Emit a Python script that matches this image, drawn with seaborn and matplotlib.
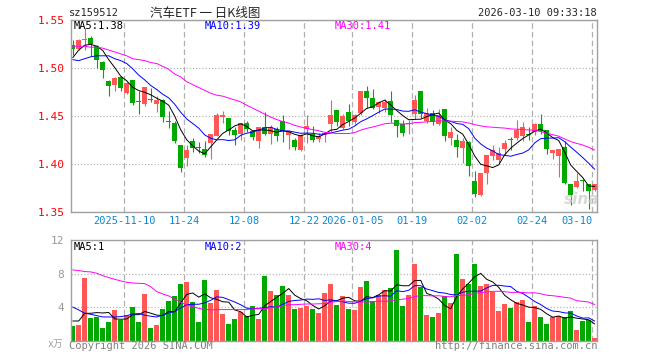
import numpy as np
import pandas as pd
import matplotlib
matplotlib.use("Agg")
import matplotlib.pyplot as plt
import seaborn as sns

# daily candles, sz159512, 2025-10-28 .. 2026-03-10
open_ = [1.524, 1.520, 1.529, 1.532, 1.523, 1.507, 1.487, 1.483, 1.491, 1.474,
         1.488, 1.466, 1.463, 1.468, 1.463, 1.467, 1.445, 1.443, 1.420, 1.407,
         1.424, 1.418, 1.416, 1.422, 1.430, 1.449, 1.448, 1.436, 1.432, 1.443,
         1.435, 1.424, 1.439, 1.432, 1.437, 1.445, 1.431, 1.425, 1.415, 1.437,
         1.432, 1.426, 1.431, 1.442, 1.457, 1.438, 1.454, 1.444, 1.453, 1.476,
         1.469, 1.460, 1.459, 1.466, 1.446, 1.442, 1.442, 1.452, 1.476, 1.445,
         1.453, 1.442, 1.458, 1.427, 1.425, 1.417, 1.423, 1.383, 1.368, 1.391,
         1.409, 1.405, 1.416, 1.426, 1.427, 1.429, 1.432, 1.434, 1.442, 1.436,
         1.412, 1.409, 1.418, 1.379, 1.376, 1.384, 1.380, 1.373]
close_ = [1.520, 1.530, 1.531, 1.525, 1.509, 1.498, 1.482, 1.490, 1.480, 1.485,
          1.464, 1.465, 1.481, 1.467, 1.467, 1.449, 1.444, 1.424, 1.396, 1.415,
          1.417, 1.417, 1.410, 1.432, 1.451, 1.451, 1.435, 1.431, 1.443, 1.437,
          1.428, 1.439, 1.432, 1.439, 1.429, 1.435, 1.435, 1.418, 1.431, 1.440,
          1.425, 1.429, 1.433, 1.451, 1.444, 1.450, 1.445, 1.451, 1.476, 1.469,
          1.459, 1.465, 1.465, 1.451, 1.440, 1.433, 1.443, 1.467, 1.452, 1.453,
          1.444, 1.451, 1.430, 1.434, 1.418, 1.424, 1.398, 1.369, 1.391, 1.410,
          1.415, 1.412, 1.422, 1.425, 1.436, 1.439, 1.431, 1.442, 1.435, 1.416,
          1.415, 1.416, 1.381, 1.368, 1.383, 1.383, 1.372, 1.379]
high_ = [1.530, 1.531, 1.542, 1.534, 1.524, 1.508, 1.488, 1.491, 1.492, 1.486,
         1.488, 1.476, 1.481, 1.479, 1.471, 1.468, 1.456, 1.445, 1.420, 1.420,
         1.427, 1.423, 1.424, 1.432, 1.453, 1.456, 1.448, 1.439, 1.443, 1.445,
         1.436, 1.439, 1.454, 1.441, 1.439, 1.451, 1.435, 1.427, 1.432, 1.451,
         1.440, 1.433, 1.434, 1.467, 1.457, 1.452, 1.463, 1.452, 1.476, 1.482,
         1.478, 1.466, 1.468, 1.476, 1.446, 1.446, 1.446, 1.472, 1.476, 1.459,
         1.457, 1.458, 1.458, 1.439, 1.432, 1.427, 1.424, 1.393, 1.391, 1.410,
         1.420, 1.418, 1.425, 1.428, 1.446, 1.444, 1.439, 1.443, 1.452, 1.436,
         1.415, 1.416, 1.424, 1.379, 1.391, 1.385, 1.380, 1.380]
low_ = [1.514, 1.519, 1.519, 1.513, 1.500, 1.490, 1.471, 1.476, 1.476, 1.473,
        1.462, 1.452, 1.461, 1.465, 1.454, 1.444, 1.438, 1.422, 1.392, 1.398,
        1.413, 1.412, 1.408, 1.406, 1.430, 1.443, 1.431, 1.420, 1.425, 1.434,
        1.425, 1.417, 1.431, 1.421, 1.424, 1.423, 1.416, 1.415, 1.414, 1.422,
        1.423, 1.423, 1.423, 1.434, 1.440, 1.437, 1.440, 1.442, 1.451, 1.459,
        1.458, 1.453, 1.455, 1.444, 1.428, 1.429, 1.432, 1.447, 1.448, 1.443,
        1.441, 1.441, 1.424, 1.420, 1.408, 1.401, 1.388, 1.366, 1.367, 1.380,
        1.405, 1.401, 1.410, 1.415, 1.425, 1.424, 1.425, 1.431, 1.432, 1.411,
        1.406, 1.387, 1.380, 1.358, 1.375, 1.372, 1.353, 1.372]
# volume in 万手
volume = [1.73, 1.89, 7.51, 2.69, 2.85, 1.49, 2.21, 3.65, 2.49, 3.05,
          4.00, 2.21, 5.56, 1.49, 1.89, 3.76, 4.72, 5.32, 6.75, 6.99,
          4.60, 2.21, 7.23, 4.48, 6.04, 3.17, 1.97, 2.57, 3.41, 2.93,
          4.12, 2.57, 7.71, 5.92, 5.44, 6.51, 5.44, 3.76, 3.88, 4.12,
          3.76, 3.29, 5.68, 6.75, 4.24, 5.32, 3.76, 3.65, 6.39, 7.11,
          4.72, 5.44, 6.04, 6.27, 10.82, 4.12, 5.44, 9.14, 6.39, 3.05,
          2.81, 3.29, 5.32, 4.48, 10.34, 7.35, 6.75, 9.14, 6.51, 6.75,
          5.80, 3.53, 4.36, 3.88, 4.60, 4.84, 2.21, 4.12, 2.81, 1.97,
          2.81, 2.93, 2.81, 3.53, 1.25, 2.33, 2.45, 0.30]

# moving-average values before a full window exists
ma5_head = [1.511, 1.519, 1.524, 1.525]
ma10_head = [1.509, 1.508, 1.510, 1.512, 1.513, 1.513, 1.513, 1.510, 1.508]
ma30_head = [1.523, 1.523, 1.523, 1.522, 1.522, 1.521, 1.519, 1.517, 1.515, 1.513,
             1.510, 1.509, 1.508, 1.506, 1.505, 1.502, 1.499, 1.494, 1.491, 1.486,
             1.483, 1.480, 1.477, 1.474, 1.472, 1.471, 1.469, 1.467, 1.465]
vma5_head = [2.33, 2.33, 3.25, 3.25]
vma10_head = [4.00, 3.65, 3.25, 3.13, 2.97, 2.81, 2.81, 2.81, 2.85]
vma30_head = [8.43, 8.35, 8.23, 8.19, 8.03, 7.75, 7.51, 7.31, 7.11, 6.95,
              6.87, 6.83, 6.79, 6.43, 5.84, 5.56, 5.32, 4.96, 4.56, 4.24,
              4.04, 3.84, 3.73, 3.65, 3.69, 3.69, 3.69, 3.69, 3.69]

holidays = ["2026-01-01", "2026-01-02", "2026-02-16", "2026-02-17",
            "2026-02-18", "2026-02-19", "2026-02-20", "2026-02-23"]
tick_dates = ["2025-11-10", "2025-11-24", "2025-12-08", "2025-12-22", "2026-01-05",
              "2026-01-19", "2026-02-02", "2026-02-24", "2026-03-10"]
tick_labels = ["2025-11-10", "11-24", "12-08", "12-22", "2026-01-05",
               "01-19", "02-02", "02-24", "03-10"]

dates = pd.bdate_range("2025-10-28", "2026-03-10").drop(pd.to_datetime(holidays))
df = pd.DataFrame({"date": dates, "open": open_, "close": close_, "high": high_,
                   "low": low_, "vol": volume})
df["i"] = np.arange(len(df))


def moving(s, n, head):
    m = s.rolling(n).mean().to_numpy()
    m[:n - 1] = head
    return m


for n, h, vh in [(5, ma5_head, vma5_head), (10, ma10_head, vma10_head),
                 (30, ma30_head, vma30_head)]:
    df[f"ma{n}"] = moving(df["close"], n, h)
    df[f"vma{n}"] = moving(df["vol"], n, vh)

RED, GREEN = "#ff5656", "#00a800"
GRID = "#b0b0b0"
col = np.where(df["close"] >= df["open"], RED, GREEN)
tick_pos = [df.index[df["date"] == pd.Timestamp(d)][0] - 0.4 for d in tick_dates]

sns.set_style("white")
plt.rcParams["font.family"] = ["DejaVu Sans Mono", "Noto Sans CJK SC"]
plt.rcParams["lines.scale_dashes"] = False

W, H = 660, 360
fig = plt.figure(figsize=(W / 100, H / 100), dpi=100)
ax = fig.add_axes([70.5 / W, 1 - 212.3 / H, 526.8 / W, 192 / H])
axv = fig.add_axes([70.5 / W, 1 - 340.5 / H, 526.8 / W, 100.5 / H])

# price panel
ax.vlines(df["i"], df["low"], df["high"], colors=col, lw=0.8, zorder=2)
body = np.maximum((df["close"] - df["open"]).abs(), 0.0009)
ax.bar(df["i"], body, bottom=np.minimum(df["open"], df["close"]), width=0.8,
       color=col, lw=0, zorder=3)
for c, clr in [("ma5", "black"), ("ma10", "#0000ff"), ("ma30", "#ff00ff")]:
    sns.lineplot(data=df, x="i", y=c, ax=ax, color=clr, lw=0.7, zorder=4, legend=False)
ax.set_ylim(1.35, 1.55)
ax.set_yticks([1.35, 1.40, 1.45, 1.50, 1.55])
ax.set_yticklabels(["1.35", "1.40", "1.45", "1.50", "1.55"])

# volume panel
axv.bar(df["i"], df["vol"], width=0.85, color=col, lw=0, zorder=2)
for c, clr in [("vma5", "black"), ("vma10", "#0000ff"), ("vma30", "#ff00ff")]:
    sns.lineplot(data=df, x="i", y=c, ax=axv, color=clr, lw=0.7, zorder=4, legend=False)
axv.set_ylim(0, 12)
axv.set_yticks([0, 4, 8, 12])
axv.set_yticklabels(["", "4", "8", "12"])

for a in (ax, axv):
    a.set_xlim(-0.37, 87.43)
    a.set_xticks(tick_pos)
    a.set_xlabel("")
    a.set_ylabel("")
    a.set_axisbelow(True)
    a.grid(axis="x", color=GRID, lw=0.9, linestyle=(0, (4, 2.3)))
    a.grid(axis="y", color=GRID, lw=0.9, linestyle=(0, (0.8, 1.5)))
    a.tick_params(length=0, labelsize=7.5)
    for s in a.spines.values():
        s.set_color("#a0a0a0")
        s.set_linewidth(1.0)
        s.set_zorder(5)

ax.set_xticklabels(tick_labels, color="#0a88d0")
ax.get_xticklabels()[-1].set_horizontalalignment("right")
ax.tick_params(axis="x", pad=2.5)
ax.tick_params(axis="y", labelcolor="red", pad=4.5, labelsize=8)
axv.set_xticklabels([])
axv.tick_params(axis="y", labelcolor="#999999", pad=4.5, labelsize=8)


def put(x, y, s, size=7.5, **kw):
    fig.text(x / W, 1 - y / H, s, va="center", fontsize=size, **kw)


put(69, 13, "sz159512")
put(150, 13, "汽车ETF 一 日K线图", size=9, family=["Noto Sans CJK SC"])
put(597, 13, "2026-03-10 09:33:18", ha="right")

last = df.iloc[-1]
put(74, 26, f"MA5:{last['ma5']:.2f}", color="black")
put(205, 26, f"MA10:{last['ma10']:.2f}", color="#0000ff")
put(335, 26, f"MA30:{last['ma30']:.2f}", color="#ff00ff")
put(74, 247, f"MA5:{int(last['vma5'])}", color="black")
put(205, 247, f"MA10:{int(last['vma10'])}", color="#0000ff")
put(335, 247, f"MA30:{int(last['vma30'])}", color="#ff00ff")

put(63, 344, "x万", size=7, ha="right", color="#a0a0a0")
put(69, 346, "Copyright 2026 SINA.COM", color="#808080")
put(597, 346, "http://finance.sina.com.cn", ha="right", color="#808080")
put(582, 200, "sina", size=11, ha="center", color="#c8c8c8", style="italic",
    weight="bold", family=["DejaVu Sans"], alpha=0.7)

fig.savefig("out.png", dpi=100)
